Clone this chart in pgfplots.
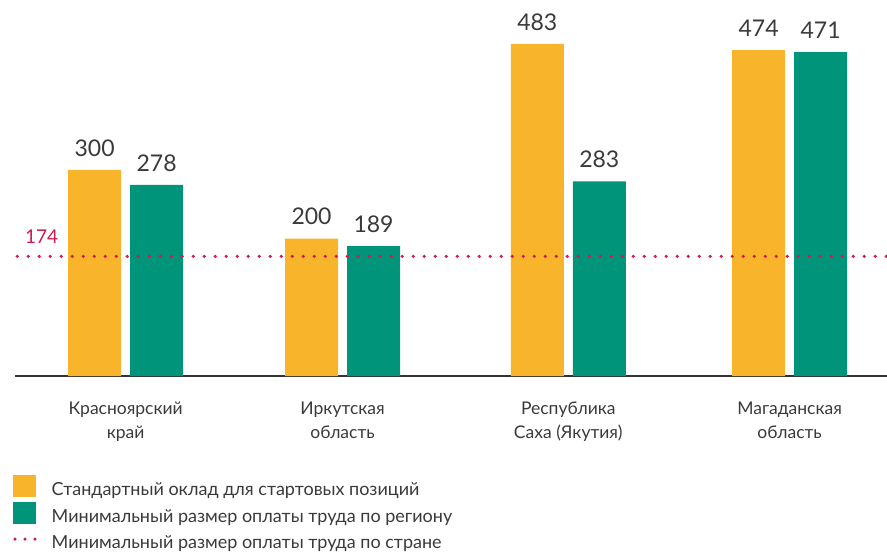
\documentclass[border=0pt]{standalone}
\usepackage{pgfplots}
\pgfplotsset{compat=1.18}
\usepackage{fontspec}
\setmainfont{Lato}
\definecolor{barorange}{HTML}{F8B52C}
\definecolor{bargreen}{HTML}{00957A}
\definecolor{linered}{HTML}{D3184E}
\definecolor{txt}{HTML}{3A3A3A}
\begin{document}
\begin{tikzpicture}
\path[use as bounding box] (0,0) rectangle (887pt,-554pt);
\begin{axis}[
    scale only axis, width=872pt, height=343.7pt,
    at={(15pt,-376pt)}, anchor=south west,
    xmin=-0.5, xmax=3.44, ymin=0, ymax=500,
    axis y line=none, axis x line*=bottom,
    x axis line style={-, draw=black!80, line width=1.2pt},
    xtick={0,0.98,2,3}, major tick length=0pt,
    xticklabels={Красноярский\\край, Иркутская\\область, Республика\\Саха (Якутия), Магаданская\\область},
    xticklabel style={align=center, font=\fontsize{17.5}{24}\selectfont, text=txt, yshift=-22pt},
    ytick=\empty,
    clip=false,
    /pgf/number format/assume math mode=true,
    nodes near coords style={font=\fontsize{23}{26}\selectfont, text=txt, yshift=10pt},
    legend style={at={(-0.006,-0.282)}, anchor=north west, draw=none, fill=none,
        font=\fontsize{18}{22}\selectfont, text=txt, row sep=0pt, column sep=13pt,
        nodes={text height=13pt, text depth=4pt, inner sep=2pt}},
    legend cell align=left,
]
\addplot[ybar, bar width=53pt, bar shift=-31pt, fill=barorange, draw=none, nodes near coords,
    every node near coord/.append style={xshift=-31pt},
    legend image code/.code={\fill[barorange, draw=none] (0pt,-6pt) rectangle (23pt,16pt);}]
    coordinates {(0,300) (0.98,200) (2,483) (3,474)};
\addlegendentry{Стандартный оклад для стартовых позиций}
\addplot[ybar, bar width=53pt, bar shift=31pt, fill=bargreen, draw=none, nodes near coords,
    every node near coord/.append style={xshift=31pt},
    legend image code/.code={\fill[bargreen, draw=none] (0pt,-6pt) rectangle (23pt,16pt);}]
    coordinates {(0,278) (0.98,189) (2,283) (3,471)};
\addlegendentry{Минимальный размер оплаты труда по региону}
\addplot[sharp plot, linered, line width=3.5pt, line cap=round, dash pattern=on 0pt off 11pt,
    legend image code/.code={\path[draw=none, fill=none] (0pt,-6pt) rectangle (23pt,16pt);
        \fill[linered, draw=none] (2pt,5pt) circle (1.7pt) (12pt,5pt) circle (1.7pt) (22pt,5pt) circle (1.7pt);}]
    coordinates {(-0.49,174) (3.44,174)};
\addlegendentry{Минимальный размер оплаты труда по стране}
\node[anchor=south west, text=linered, font=\fontsize{19}{22}\selectfont, inner sep=0pt] at (axis cs:-0.455,174) [yshift=13pt] {174};
\end{axis}
\end{tikzpicture}
\end{document}
